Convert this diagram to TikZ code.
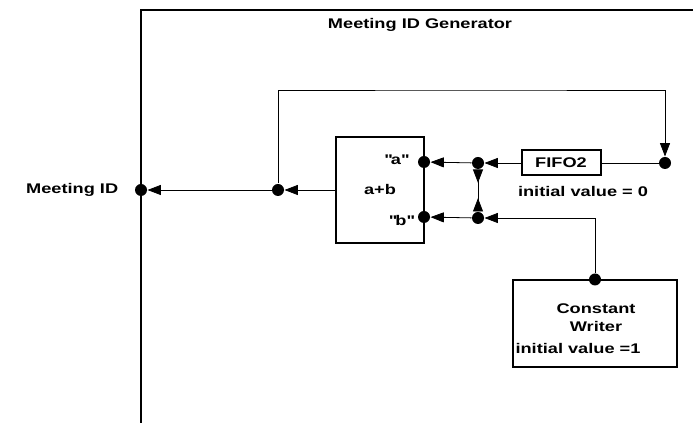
\documentclass[tikz,border=0pt]{standalone}
\usepackage{fontspec}
\setmainfont{Liberation Sans}[FakeStretch=1.3]
\usetikzlibrary{arrows.meta}

\tikzset{every picture/.style={line width=0.75pt}}
\tikzset{
	dot/.style={circle,fill=black,inner sep=0pt,minimum size=9pt},
	blockbox/.style={draw,line width=1.5pt,inner sep=0pt},
	conn/.style={line width=0.6pt},
	tip/.style={-{Triangle[length=10pt,width=7.5pt]}},
	lbl/.style={font=\fontsize{10.5}{12.5}\selectfont\bfseries,inner sep=1pt}}

\begin{document}
\begin{tikzpicture}[x=0.75pt,y=0.75pt,yscale=-1,xscale=1]
	\useasboundingbox (0,0) rectangle (693,423);

	%Shape: Frame
	\draw [line width=1.6pt] (693,10) -- (141,10) -- (141,423) ;

	% Text Node
	\node [lbl] (title) at (420,25) {Meeting ID Generator};
	% Text Node
	\node [lbl,anchor=east] (idlbl) at (120,190) {Meeting ID};
	%Shape: Circle
	\node [dot] (idport) at (141,190) {};

	%Shape: Rectangle
	\node [blockbox,lbl,minimum width=66pt,minimum height=79.5pt] (adder) at (380,190) {a+b};
	\node [dot] (porta) at (424,162) {};
	\node [dot] (portb) at (424,217) {};
	% Text Node
	\node [lbl] (albl) at (396,160) {\textquotedbl a\textquotedbl};
	% Text Node
	\node [lbl] (blbl) at (401,221) {\textquotedbl b\textquotedbl};

	%Shape: Circle
	\node [dot] (split1) at (278,190) {};
	\node [dot] (split2) at (478,163) {};
	\node [dot] (split3) at (478,218) {};

	%Shape: Rectangle
	\node [blockbox,lbl,minimum width=59.25pt,minimum height=18.75pt] (fifo) at (561,163) {FIFO2};
	% Text Node
	\node [lbl] (fifoinit) at (583,192) {initial value = 0};
	\node [dot] (fifoout) at (665,163) {};
	\coordinate (fbtop) at (470,90);

	%Shape: Rectangle
	\node [blockbox,minimum width=123pt,minimum height=65.25pt] (cw) at (595,324) {};
	% Text Node
	\node [lbl,align=center] (cwlbl) at (596,318) {Constant\\[1pt]Writer};
	% Text Node
	\node [lbl] (cwinit) at (578,349) {initial value =1};
	\node [dot] (cwout) at (cw.north) {};

	%Straight Lines
	\draw [conn,tip] (adder) -- (split1) ;
	\draw [conn,tip] (split1) -- (idport) ;
	\draw [conn,tip] (split1) |- (fbtop) -| (fifoout) ;
	\draw [conn] (fifo) -- (fifoout) ;
	\draw [conn,tip] (fifo) -- (split2) ;
	\draw [conn,tip] (split2) -- (porta) ;
	\draw [conn,tip] (split3) -- (portb) ;
	\draw [conn,tip] (cwout) |- (split3) ;
	\draw [conn,{Triangle[reversed,length=10pt,width=7.5pt]}-{Triangle[reversed,length=10pt,width=7.5pt]}] (split2) -- (split3) ;

\end{tikzpicture}
\end{document}
